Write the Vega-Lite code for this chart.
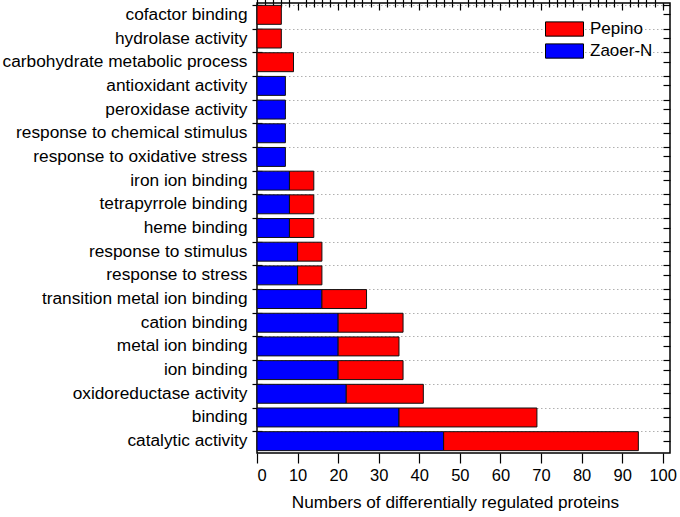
{
  "$schema": "https://vega.github.io/schema/vega-lite/v6.json",
  "description": "Numbers of differentially regulated proteins by GO term, Zaoer-N vs Pepino.",
  "autosize": {"type": "none"},
  "padding": {"left": 257, "top": 3, "right": 10, "bottom": 64},
  "width": 413,
  "height": 450,
  "config": {
    "font": "Liberation Sans",
    "view": {"stroke": "black", "strokeWidth": 1.5},
    "axis": {"tickColor": "black", "domainColor": "black", "labelColor": "black", "titleColor": "black", "tickWidth": 1.2}
  },
  "data": {
    "values": [
      {"term": "cofactor binding", "cultivar": "Pepino", "count": 6},
      {"term": "hydrolase activity", "cultivar": "Pepino", "count": 6},
      {"term": "carbohydrate metabolic process", "cultivar": "Pepino", "count": 9},
      {"term": "antioxidant activity", "cultivar": "Zaoer-N", "count": 7},
      {"term": "peroxidase activity", "cultivar": "Zaoer-N", "count": 7},
      {"term": "response to chemical stimulus", "cultivar": "Zaoer-N", "count": 7},
      {"term": "response to oxidative stress", "cultivar": "Zaoer-N", "count": 7},
      {"term": "iron ion binding", "cultivar": "Zaoer-N", "count": 8},
      {"term": "iron ion binding", "cultivar": "Pepino", "count": 6},
      {"term": "tetrapyrrole binding", "cultivar": "Zaoer-N", "count": 8},
      {"term": "tetrapyrrole binding", "cultivar": "Pepino", "count": 6},
      {"term": "heme binding", "cultivar": "Zaoer-N", "count": 8},
      {"term": "heme binding", "cultivar": "Pepino", "count": 6},
      {"term": "response to stimulus", "cultivar": "Zaoer-N", "count": 10},
      {"term": "response to stimulus", "cultivar": "Pepino", "count": 6},
      {"term": "response to stress", "cultivar": "Zaoer-N", "count": 10},
      {"term": "response to stress", "cultivar": "Pepino", "count": 6},
      {"term": "transition metal ion binding", "cultivar": "Zaoer-N", "count": 16},
      {"term": "transition metal ion binding", "cultivar": "Pepino", "count": 11},
      {"term": "cation binding", "cultivar": "Zaoer-N", "count": 20},
      {"term": "cation binding", "cultivar": "Pepino", "count": 16},
      {"term": "metal ion binding", "cultivar": "Zaoer-N", "count": 20},
      {"term": "metal ion binding", "cultivar": "Pepino", "count": 15},
      {"term": "ion binding", "cultivar": "Zaoer-N", "count": 20},
      {"term": "ion binding", "cultivar": "Pepino", "count": 16},
      {"term": "oxidoreductase activity", "cultivar": "Zaoer-N", "count": 22},
      {"term": "oxidoreductase activity", "cultivar": "Pepino", "count": 19},
      {"term": "binding", "cultivar": "Zaoer-N", "count": 35},
      {"term": "binding", "cultivar": "Pepino", "count": 34},
      {"term": "catalytic activity", "cultivar": "Zaoer-N", "count": 46},
      {"term": "catalytic activity", "cultivar": "Pepino", "count": 48}
    ]
  },
  "encoding": {
    "y": {
      "field": "term",
      "type": "nominal",
      "scale": {
        "domain": ["cofactor binding", "hydrolase activity", "carbohydrate metabolic process", "antioxidant activity", "peroxidase activity", "response to chemical stimulus", "response to oxidative stress", "iron ion binding", "tetrapyrrole binding", "heme binding", "response to stimulus", "response to stress", "transition metal ion binding", "cation binding", "metal ion binding", "ion binding", "oxidoreductase activity", "binding", "catalytic activity"],
        "paddingInner": 0.2,
        "paddingOuter": 0.1
      }
    },
    "x": {
      "field": "count",
      "type": "quantitative",
      "stack": "zero",
      "scale": {"domain": [0, 101.8], "nice": false, "zero": true}
    },
    "order": {"field": "cultivar", "sort": "descending"}
  },
  "layer": [
    {
      "mark": {"type": "bar", "stroke": "#111111", "strokeWidth": 1},
      "encoding": {
        "color": {
          "field": "cultivar",
          "type": "nominal",
          "scale": {"domain": ["Pepino", "Zaoer-N"], "range": ["#ff0000", "#0000ff"]},
          "legend": {
            "title": null,
            "orient": "none",
            "legendX": 297.5,
            "legendY": 16,
            "symbolType": "M-2,-0.75L2,-0.75L2,0.75L-2,0.75Z",
            "symbolSize": 361,
            "symbolStrokeColor": "black",
            "symbolStrokeWidth": 1,
            "labelFontSize": 17,
            "labelColor": "black",
            "labelOffset": 15.5,
            "rowPadding": 2
          }
        },
        "x": {
          "field": "count",
          "type": "quantitative",
          "stack": "zero",
          "title": "Numbers of differentially regulated proteins",
          "axis": {
            "values": [0, 10, 20, 30, 40, 50, 60, 70, 80, 90, 100],
            "domain": false,
            "grid": false,
            "tickSize": 10,
            "labelFontSize": 16.5,
            "labelPadding": 4,
            "titleFontSize": 17.2,
            "titleFontWeight": "normal",
            "titlePadding": 10,
            "titleX": 198,
            "titleAlign": "center"
          }
        },
        "y": {
          "field": "term",
          "type": "nominal",
          "title": null,
          "axis": {
            "domain": false,
            "grid": false,
            "bandPosition": 0,
            "offset": -5,
            "tickSize": 10,
            "labelFontSize": 17.3,
            "labelPadding": 5,
            "labelBound": false,
            "labelOverlap": false,
            "labelLimit": 400
          }
        }
      }
    },
    {
      "mark": {"type": "bar", "opacity": 0},
      "encoding": {
        "x": {
          "field": "count",
          "type": "quantitative",
          "stack": "zero",
          "axis": {"values": [0, 2, 4, 6, 8, 12, 14, 16, 18, 22, 24, 26, 28, 32, 34, 36, 38, 42, 44, 46, 48, 52, 54, 56, 58, 62, 64, 66, 68, 72, 74, 76, 78, 82, 84, 86, 88, 92, 94, 96, 98], "labels": false, "domain": false, "grid": false, "tickSize": 6, "title": null}
        },
        "y": {
          "field": "term",
          "type": "nominal",
          "axis": {"bandPosition": 0, "grid": true, "gridColor": "#b0b0b0", "gridDash": [1.5, 2.5], "gridWidth": 1, "ticks": false, "labels": false, "domain": false, "title": null}
        }
      }
    },
    {
      "mark": {"type": "bar", "opacity": 0},
      "encoding": {
        "x": {
          "field": "count",
          "type": "quantitative",
          "stack": "zero",
          "axis": {"orient": "top", "values": [0, 10, 20, 30, 40, 50, 60, 70, 80, 90, 100], "offset": -7, "tickSize": 7, "labels": false, "domain": false, "grid": false, "title": null}
        },
        "y": {
          "field": "term",
          "type": "nominal",
          "axis": {"orient": "right", "bandPosition": 0, "offset": -7, "tickSize": 7, "labels": false, "domain": false, "grid": false, "title": null}
        }
      }
    },
    {
      "mark": {"type": "bar", "opacity": 0},
      "encoding": {
        "x": {
          "field": "count",
          "type": "quantitative",
          "stack": "zero",
          "axis": {"orient": "top", "values": [2, 4, 6, 8, 12, 14, 16, 18, 22, 24, 26, 28, 32, 34, 36, 38, 42, 44, 46, 48, 52, 54, 56, 58, 62, 64, 66, 68, 72, 74, 76, 78, 82, 84, 86, 88, 92, 94, 96, 98, 100], "offset": -4, "tickSize": 4, "labels": false, "domain": false, "grid": false, "title": null}
        },
        "y": {
          "field": "term",
          "type": "nominal",
          "axis": {"orient": "right", "bandPosition": 0.5, "offset": -7, "tickSize": 7, "labels": false, "domain": false, "grid": false, "title": null}
        }
      }
    }
  ],
  "resolve": {"axis": {"x": "independent", "y": "independent"}}
}
